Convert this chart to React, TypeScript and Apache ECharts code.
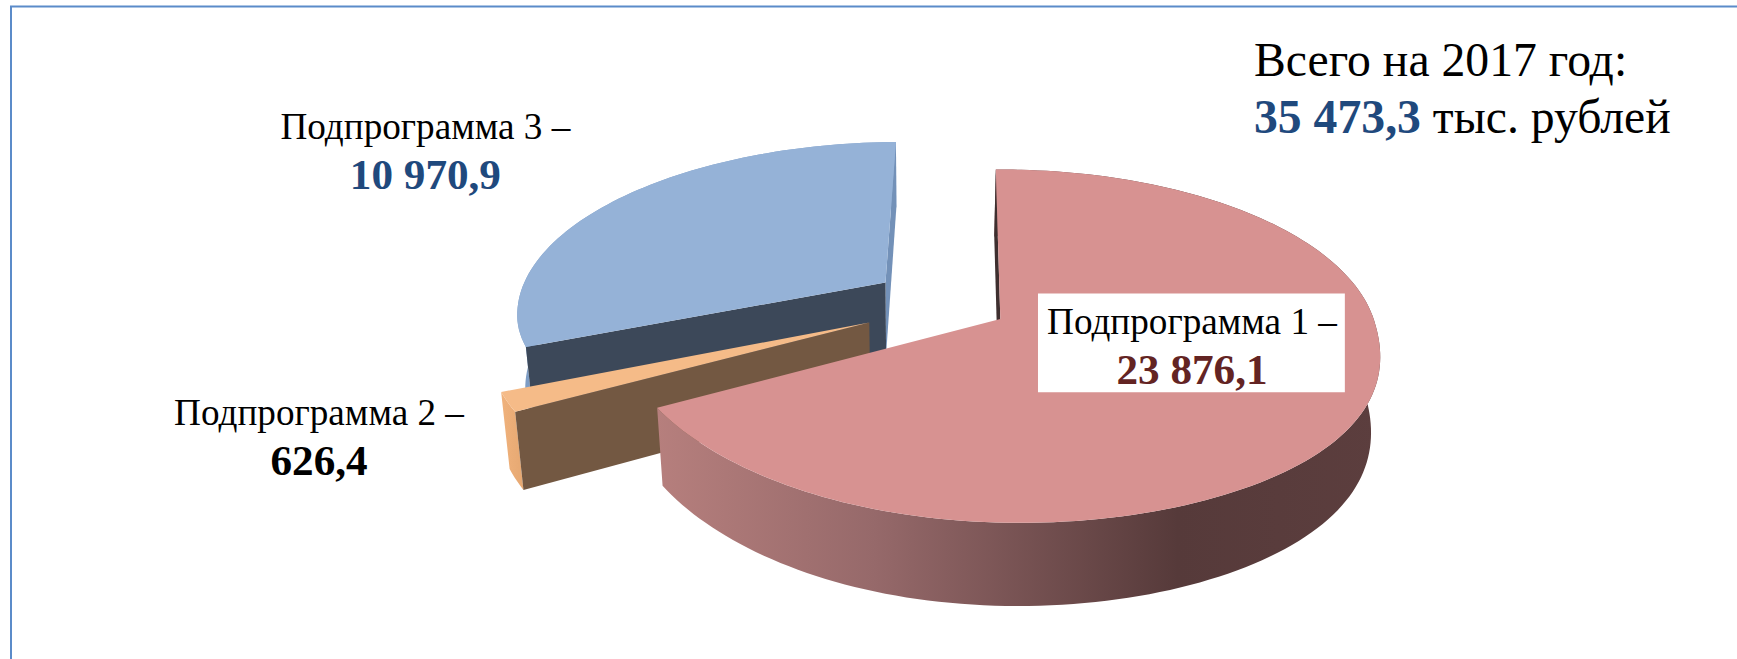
import React, { useEffect, useRef } from "react";
import * as echarts from "echarts";

const categories = ["Подпрограмма 1 –", "Подпрограмма 2 –", "Подпрограмма 3 –"];
const values = [23876.1, 626.4, 10970.9];
const valueLabels = ["23 876,1", "626,4", "10 970,9"];
const totalTitle = "Всего на 2017 год:";
const totalValue = "35 473,3";
const totalUnit = " тыс. рублей";

const W = 1737;
const H = 659;
const S = 1737 / 1568;

// perspective model of the disc (unit disc, u to the right, v towards viewer)
const PERSP = 0.1536;
const SKEW = 18 * S;
const TOP = { cx: 903 * S, cy: 288 * S, rx: 337 * S, ry: 155.7 * S };
const BOTTOM = { cx: 901.5 * S, cy: 354.5 * S, rx: 337 * 0.98 * S, ry: 155.7 * 1.047 * S };
const ROTATION = -0.8;
const OFFSETS = [
  [0, 0],
  [-0.35, 0.02],
  [-0.318, -0.219],
];

const project = (plane: any, u: number, v: number) => {
  const w = 1 - PERSP * v;
  const t = Math.min(Math.max(v / 0.9, 0), 1);
  const skew = SKEW * t * t * (3 - 2 * t);
  return [plane.cx + (plane.rx * u) / w + skew, plane.cy + (plane.ry * v) / w];
};

const hGrad = (stops: [number, string][]) =>
  new echarts.graphic.LinearGradient(
    0, 0, 1, 0,
    stops.map(([offset, color]) => ({ offset, color }))
  );

const PAINT = [
  {
    top: "#d79291",
    outer: hGrad([[0, "#b67f7d"], [0.3, "#96696a"], [0.72, "#563a3a"], [1, "#5c3e3e"]]),
    startFace: "#3e2f2f",
    endFace: null,
  },
  {
    top: "#f5bb88",
    outer: hGrad([[0, "#f0b27c"], [1, "#e6a872"]]),
    startFace: "#735842",
    endFace: null,
  },
  {
    top: "#95b2d7",
    outer: hGrad([[0, "#7d9cc4"], [1, "#8aa8ce"]]),
    startFace: "#3c4859",
    endFace: "#7391b8",
  },
];

const total = values.reduce((a, b) => a + b, 0);

function sliceAngles(i: number) {
  let before = 0;
  for (let k = 0; k < i; k++) before += values[k];
  const a0 = (before / total) * 360 + ROTATION;
  const a1 = ((before + values[i]) / total) * 360 + ROTATION;
  return [a0, a1];
}

function renderSlice(_params: any, api: any) {
  const i = api.value(0);
  const [a0, a1] = sliceAngles(i);
  const [ou, ov] = OFFSETS[i];
  const paint = PAINT[i];
  const at = (deg: number) => {
    const r = (deg * Math.PI) / 180;
    return [ou + Math.sin(r), ov - Math.cos(r)];
  };
  const arc = (plane: any) => {
    const pts: number[][] = [];
    const n = Math.max(4, Math.ceil((a1 - a0) / 1.5));
    for (let s = 0; s <= n; s++) {
      const [u, v] = at(a0 + ((a1 - a0) * s) / n);
      pts.push(project(plane, u, v));
    }
    return pts;
  };
  const topArc = arc(TOP);
  const botArc = arc(BOTTOM);
  const cTop = project(TOP, ou, ov);
  const cBot = project(BOTTOM, ou, ov);
  const poly = (points: number[][], fill: any) => ({
    type: "polygon",
    shape: { points },
    style: { fill, stroke: null },
  });
  const children: any[] = [poly([...topArc, ...botArc.slice().reverse()], paint.outer)];
  if (paint.endFace) {
    children.push(poly([topArc[topArc.length - 1], cTop, cBot, botArc[botArc.length - 1]], paint.endFace));
  }
  children.push(poly([topArc[0], cTop, cBot, botArc[0]], paint.startFace));
  children.push(poly([cTop, ...topArc], paint.top));
  return { type: "group", children };
}

const FONT = '"Liberation Serif", "Times New Roman", serif';

function labelBlock(cat: string, val: string, x: number, y: number, color: string) {
  return {
    type: "text",
    z: 100,
    x: x * S,
    y: y * S,
    style: {
      text: `{n|${cat}}\n{b|${val}}`,
      align: "center",
      verticalAlign: "middle",
      rich: {
        n: { fontFamily: FONT, fontSize: 37.2, lineHeight: 48, fill: "#000", fontWeight: "normal" },
        b: { fontFamily: FONT, fontSize: 43.2, lineHeight: 48, fill: color, fontWeight: "bold" },
      },
    },
  };
}

export default function App() {
  const ref = useRef<HTMLDivElement>(null);
  useEffect(() => {
    document.body.style.margin = "0";
    document.body.style.background = "#fff";
    const chart = echarts.init(ref.current!, undefined, { renderer: "svg" });
    chart.setOption({
      animation: false,
      backgroundColor: "#ffffff",
      series: [
        {
          type: "custom",
          coordinateSystem: "none",
          silent: true,
          renderItem: renderSlice,
          encode: { value: 1 },
          // painted back to front: 3, 2, 1
          data: categories.map((c, i) => [i, values[i]]).reverse(),
        },
      ],
      graphic: [
        {
          type: "rect",
          z: 99,
          shape: { x: 11, y: 6.5, width: 1760, height: 720 },
          style: { fill: "none", stroke: "#5b8bc9", lineWidth: 2 },
        },
        {
          type: "rect",
          z: 99,
          shape: { x: 937 * S, y: 265 * S, width: 277 * S, height: 89 * S },
          style: { fill: "#ffffff" },
        },
        labelBlock(categories[0], valueLabels[0], 1076, 312, "#632423"),
        labelBlock(categories[1], valueLabels[1], 288, 394, "#000000"),
        labelBlock(categories[2], valueLabels[2], 384, 136, "#1f497d"),
        {
          type: "text",
          z: 100,
          x: 1132 * S,
          y: 79.5 * S,
          style: {
            text: `{n|${totalTitle}}\n{b|${totalValue}}{n|${totalUnit}}`,
            align: "left",
            verticalAlign: "middle",
            rich: {
              n: { fontFamily: FONT, fontSize: 47.7, lineHeight: 57, fill: "#000", fontWeight: "normal" },
              b: { fontFamily: FONT, fontSize: 47.7, lineHeight: 57, fill: "#1f497d", fontWeight: "bold" },
            },
          },
        },
      ],
    });
    return () => chart.dispose();
  }, []);
  return <div ref={ref} style={{ width: W, height: H }} />;
}
